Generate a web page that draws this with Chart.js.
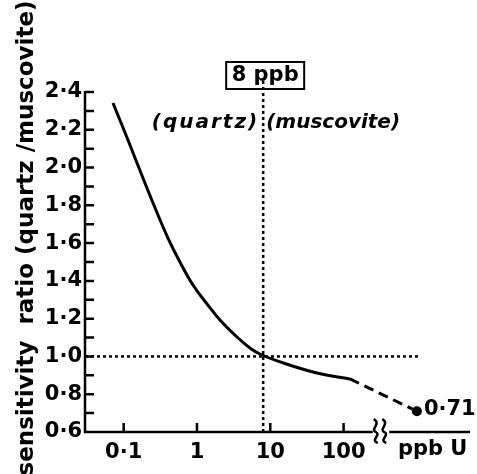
<!DOCTYPE html>
<html lang="en">
<head>
    <meta charset="UTF-8">
    <title>sensitivity ratio</title>
    <style>
        body { margin: 0; background: #fff; }
        canvas { display: block; }
    </style>
</head>
<body>
    <canvas id="myChart" width="477" height="474"></canvas>

    <script src="https://cdn.jsdelivr.net/npm/chart.js"></script>
    <script>
        // U content (ppb) vs sensitivity ratio, solid part of the curve
        const ppb = [0.0715, 0.1145, 0.195, 0.294, 0.402, 0.586, 0.882, 1.37, 2.06, 3.51, 5.28, 7.23, 13.6, 43.4, 122];
        const ratio = [2.342, 2.146, 1.918, 1.749, 1.627, 1.500, 1.378, 1.278, 1.193, 1.103, 1.045, 1.013, 0.971, 0.912, 0.881];
        // dashed extension to the pure end member
        const extPpb = [122, 1000];
        const extRatio = [0.881, 0.71];
        const endValue = 0.71;

        const xTicks = [0.1, 1, 10, 100];
        const xTickLabels = ['0·1', '1', '10', '100'];
        const markPpb = 8;      // vertical reference line
        const unityRatio = 1.0; // horizontal reference line

        const X_MIN = 0.0297, X_MAX = 5300;
        const BREAK_LO = 250, BREAK_HI = 420;
        const BOLD = 'bold 21px "DejaVu Sans"';

        const ctx = document.querySelector('#myChart');

        function dotted(points) {
            return {
                data: points, borderColor: '#000', borderWidth: 2.5,
                borderDash: [3, 3], pointRadius: 0, clip: false
            };
        }

        // axes, inward ticks, axis break and the text annotations
        const decor = {
            id: 'decor',
            afterDatasetsDraw(chart) {
                const c = chart.ctx;
                const xs = chart.scales.x, ys = chart.scales.y;
                const x0 = xs.left, y0 = ys.bottom, yTop = ys.top;
                c.save();
                c.strokeStyle = '#000';
                c.fillStyle = '#000';
                c.lineWidth = 2.5;
                c.lineCap = 'butt';

                // y axis + ticks every 0.1
                c.beginPath();
                c.moveTo(x0, yTop - 1);
                c.lineTo(x0, y0 + 1);
                for (let v = 0.6; v <= 2.401; v += 0.1) {
                    const py = ys.getPixelForValue(v);
                    c.moveTo(x0, py);
                    c.lineTo(x0 + 9, py);
                }
                // x axis in two parts
                const b1 = xs.getPixelForValue(BREAK_LO), b2 = xs.getPixelForValue(BREAK_HI);
                c.moveTo(x0 - 1, y0);
                c.lineTo(b1, y0);
                c.moveTo(b2, y0);
                c.lineTo(xs.right, y0);
                xTicks.forEach(v => {
                    const px = xs.getPixelForValue(v);
                    c.moveTo(px, y0);
                    c.lineTo(px, y0 - 9);
                });
                c.stroke();

                // break marks
                c.lineWidth = 2.5;
                [b1 + 3, b2 - 5].forEach(bx => {
                    c.beginPath();
                    c.moveTo(bx - 2, y0 - 13);
                    c.bezierCurveTo(bx + 6, y0 - 8, bx - 6, y0 - 3, bx, y0);
                    c.bezierCurveTo(bx + 6, y0 + 3, bx - 6, y0 + 8, bx + 2, y0 + 11);
                    c.stroke();
                });

                // end member point and value
                const ex = xs.getPixelForValue(extPpb[1]), ey = ys.getPixelForValue(endValue);
                c.beginPath();
                c.arc(ex, ey, 5, 0, Math.PI * 2);
                c.fill();
                c.font = BOLD;
                c.textAlign = 'left';
                c.textBaseline = 'middle';
                c.fillText(endValue.toFixed(2).replace('.', '·'), ex + 7, ey - 2);

                // unit label right of the break
                c.textAlign = 'center';
                c.textBaseline = 'top';
                c.fillText('ppb U', (b2 + xs.right) / 2 + 3, y0 + 7);

                // boxed "8 ppb" label
                const mx = xs.getPixelForValue(markPpb);
                c.textBaseline = 'middle';
                c.fillText('8 ppb', mx + 2, 76);
                c.lineWidth = 2;
                c.strokeRect(mx - 37, 62, 78, 27);

                // (quartz):(muscovite)
                c.font = 'italic bold 20px "DejaVu Sans"';
                c.textBaseline = 'alphabetic';
                c.textAlign = 'right';
                c.letterSpacing = '2px';
                c.fillText('(quartz)', mx - 4, 128);
                c.letterSpacing = '0px';
                c.textAlign = 'left';
                c.fillText('(muscovite)', mx + 3, 128);

                // y title
                c.font = 'bold 23px "DejaVu Sans"';
                c.translate(27, 238);
                c.rotate(-Math.PI / 2);
                c.textAlign = 'center';
                c.textBaseline = 'middle';
                c.fillText('sensitivity  ratio (quartz /muscovite)', 0, 0);
                c.restore();
            }
        };

        new Chart(ctx, {
            type: 'line',
            data: {
                datasets: [
                    {
                        data: ppb.map((v, i) => ({ x: v, y: ratio[i] })),
                        borderColor: '#000', borderWidth: 3,
                        tension: 0.4, pointRadius: 0
                    },
                    {
                        data: extPpb.map((v, i) => ({ x: v, y: extRatio[i] })),
                        borderColor: '#000', borderWidth: 3,
                        borderDash: [10, 6], pointRadius: 0
                    },
                    dotted([{ x: markPpb, y: 0.6 }, { x: markPpb, y: 2.46 }]),
                    dotted([{ x: X_MIN, y: unityRatio }, { x: 1100, y: unityRatio }])
                ]
            },
            options: {
                responsive: false,
                animation: false,
                layout: { padding: { top: 92, right: 7, left: 0, bottom: 0 } },
                plugins: { legend: { display: false }, tooltip: { enabled: false } },
                scales: {
                    x: {
                        type: 'logarithmic',
                        min: X_MIN, max: X_MAX,
                        border: { display: false },
                        grid: { display: false, drawTicks: false },
                        afterBuildTicks: s => { s.ticks = xTicks.map(v => ({ value: v })); },
                        afterFit: s => { s.height = 42; },
                        ticks: {
                            autoSkip: false, maxRotation: 0, padding: 8,
                            color: '#000', font: { family: 'DejaVu Sans', weight: 'bold', size: 21 },
                            callback: v => xTickLabels[xTicks.indexOf(v)]
                        }
                    },
                    y: {
                        min: 0.6, max: 2.4,
                        border: { display: false },
                        grid: { display: false, drawTicks: false },
                        afterFit: s => { s.width = 85; },
                        ticks: {
                            stepSize: 0.1, padding: 3,
                            color: '#000', font: { family: 'DejaVu Sans', weight: 'bold', size: 21 },
                            callback: v => Math.round(v * 10) % 2 === 0 ? v.toFixed(1).replace('.', '·') : ''
                        }
                    }
                }
            },
            plugins: [decor]
        });
    </script>
</body>
</html>
